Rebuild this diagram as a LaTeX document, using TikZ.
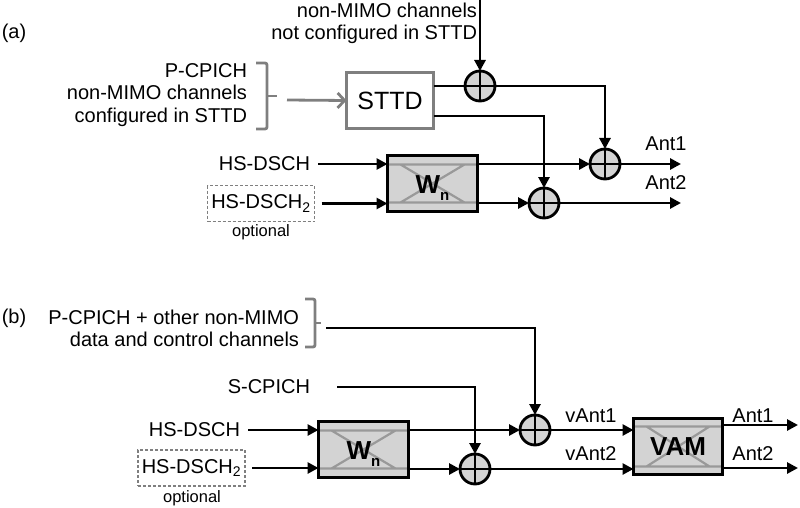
\documentclass[tikz,border=0pt]{standalone}
\usepackage{fontspec}
\setmainfont{Liberation Sans}
\usetikzlibrary{arrows.meta,calc}
\definecolor{boxfill}{HTML}{D3D3D3}
\definecolor{lgray}{HTML}{7F7F7F}
\definecolor{igray}{HTML}{999999}
\begin{document}
\begin{tikzpicture}[x=1pt,y=-1pt,
  every node/.style={font=\fontsize{20}{22.5}\selectfont, inner sep=0pt, outer sep=0pt},
  conn/.style={line width=2.8pt},
  arr/.style={conn, -{Triangle[length=11pt,width=11pt]}},
  adder/.style={circle, draw, line width=2.8pt, fill=boxfill, minimum size=30pt,
    path picture={\draw[line width=2.8pt] (path picture bounding box.north) -- (path picture bounding box.south)
      (path picture bounding box.west) -- (path picture bounding box.east);}},
  mixbox/.style={draw, line width=2.8pt, fill=boxfill, minimum width=90pt, minimum height=56pt,
    path picture={\draw[igray,line width=2.2pt]
      ([yshift=-#1]path picture bounding box.north west) -- ([yshift=-#1]path picture bounding box.north east)
      ([yshift=#1]path picture bounding box.south west) -- ([yshift=#1]path picture bounding box.south east)
      ([xshift=13pt,yshift=-#1]path picture bounding box.north west) -- ([xshift=-13pt,yshift=#1]path picture bounding box.south east)
      ([xshift=-13pt,yshift=-#1]path picture bounding box.north east) -- ([xshift=13pt,yshift=#1]path picture bounding box.south west);}},
  mixbox/.default=9pt,
  stbox/.style={draw=lgray, line width=2.8pt, fill=white, minimum width=87pt, minimum height=56pt, font=\fontsize{25}{25}\selectfont},
  optbox/.style={draw=lgray, dashed, dash pattern=on 3pt off 2pt, line width=1.2pt, minimum width=107pt, minimum height=36pt},
  small/.style={font=\fontsize{16.5}{18}\selectfont},
  brace/.style={draw=lgray, line width=2.8pt, rounded corners=2pt},
  wlab/.style={font=\fontsize{26}{26}\selectfont\bfseries}
]
\useasboundingbox (0,0) rectangle (800,508);

% ---------------- (a) ----------------
\node (la) at (14,33) {(a)};
\node[anchor=east, align=right] (nm) at (477,23.5) {non-MIMO channels\\not configured in STTD};
\node[anchor=east, align=right] (pc) at (247,95) {P-CPICH\\non-MIMO channels\\configured in STTD};
\draw[brace] (256,63) -- (267,63) -- (267,129) -- (256,129);
\draw[brace] (267,96) -- (277,96);

\node[stbox] (sttd) at (390,100.5) {STTD};
\node[adder] (c1) at (480,86) {};
\node[mixbox] (wa) at (432.5,183.5) {};
\node[wlab, anchor=base] (wal) at ([yshift=-10pt]wa.center) {W\raisebox{-6.5pt}{\fontsize{15}{15}\selectfont n}};
\node[adder] (c3) at (605,164) {};
\node[adder] (c4) at (544,203) {};

\coordinate (topin) at (480,0);
\coordinate (gin) at (287,100);
\draw[lgray, conn, -{Straight Barb[length=7pt,width=15pt]}] (gin) -- (sttd.west);
\draw[arr] (topin) -- (c1.north);
\draw[conn] ([yshift=14.5pt]sttd.east) -- (c1.west);
\draw[arr] (c1.east) -| (c3.north);
\draw[arr] ([yshift=-15.5pt]sttd.east) -| (c4.north);
\draw[arr] (wa.east |- c3) -- (c3.west);
\draw[arr] (wa.east |- c4) -- (c4.west);
\coordinate (a1) at (681,164);
\coordinate (a2) at (681,203);
\draw[arr] (c3.east) -- (a1);
\draw[arr] (c4.east) -- (a2);
\node (lant1) at (666,144) {Ant1};
\node (lant2) at (666,183) {Ant2};

\node[anchor=east] (hs) at (310,164) {HS-DSCH};
\draw[arr] ($(hs.east)+(8,0)$) -- (hs.east -| wa.west);
\node[optbox] (hs2) at (261,203.5) {HS-DSCH\textsubscript{2}};
\draw[arr] ($(hs2.east)+(7,0)$) -- (hs2.east -| wa.west);
\node[small] (opt1) at (261,232) {optional};

% ---------------- (b) ----------------
\node (lb) at (14,318) {(b)};
\node[anchor=east, align=right] (pc2) at (299,328.5) {P-CPICH + other non-MIMO\\data and control channels};
\draw[brace] (305,299) -- (315,299) -- (315,347) -- (305,347);
\draw[brace] (315,323) -- (321,323);

\node[adder] (c5) at (535,430) {};
\node[adder] (c6) at (475,469) {};
\node[mixbox] (wb) at (363.5,449.5) {};
\node[wlab, anchor=base] (wbl) at ([yshift=-10pt]wb.center) {W\raisebox{-6.5pt}{\fontsize{15}{15}\selectfont n}};
\node[mixbox=8pt, minimum width=89pt] (vam) at (678,446.5) {\fontsize{26}{26}\selectfont\bfseries VAM};

\coordinate (pin) at (326,328);
\draw[arr] (pin) -| (c5.north);
\node[anchor=east] (sc) at (310,387) {S-CPICH};
\draw[arr] ($(sc.east)+(27,0)$) -| (c6.north);

\node[anchor=east] (hsb) at (240,430) {HS-DSCH};
\draw[arr] ($(hsb.east)+(8,0)$) -- (hsb.east -| wb.west);
\node[optbox] (hsb2) at (191.5,468) {HS-DSCH\textsubscript{2}};
\draw[arr] ($(hsb2.east)+(7,0)$) -- (hsb2.east -| wb.west);
\node[small] (opt2) at (192,498) {optional};

\draw[arr] (wb.east |- c5) -- (c5.west);
\draw[arr] (wb.east |- c6) -- (c6.west);
\draw[arr] (c5.east) -- (c5 -| vam.west);
\draw[arr] (c6.east) -- (c6 -| vam.west);
\coordinate (o1) at (798,425);
\coordinate (o2) at (798,468);
\draw[arr] (vam.east |- o1) -- (o1);
\draw[arr] (vam.east |- o2) -- (o2);
\node (lv1) at (591,416) {vAnt1};
\node (lv2) at (591,454) {vAnt2};
\node (lb1) at (753,416) {Ant1};
\node (lb2) at (753,454) {Ant2};
\end{tikzpicture}
\end{document}
